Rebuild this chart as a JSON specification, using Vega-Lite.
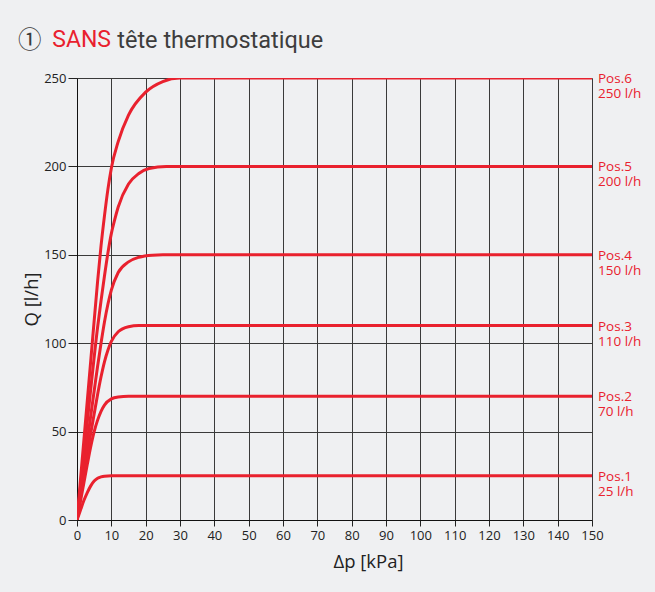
{
  "$schema": "https://vega.github.io/schema/vega-lite/v6.json",
  "width": 515,
  "height": 442,
  "autosize": {"type": "none"},
  "padding": {"left": 77, "top": 78, "right": 63, "bottom": 72},
  "background": "#eff0f2",
  "title": {
    "text": "①\u00a0\u00a0\u00a0\u00a0\u00a0\u00a0\u00a0\u00a0\u00a0\u00a0\u00a0\u00a0\u00a0tête thermostatique",
    "subtitle": "\u200b\u00a0\u00a0\u00a0\u00a0\u00a0\u00a0SANS",
    "anchor": "start",
    "frame": "group",
    "dx": -59,
    "offset": 20,
    "font": "Roboto, Noto Sans CJK JP",
    "fontSize": 23.5,
    "fontWeight": "normal",
    "color": "#3d3d3d",
    "subtitleFont": "Roboto",
    "subtitleFontSize": 23,
    "subtitleFontWeight": "normal",
    "subtitleColor": "#e9212e",
    "subtitlePadding": -23.5
  },
  "config": {
    "view": {"stroke": null},
    "axis": {
      "labelFont": "Open Sans",
      "labelFontSize": 13,
      "labelColor": "#222222",
      "tickColor": "#222222",
      "domainColor": "#111111",
      "gridColor": "#3a3a3a",
      "gridWidth": 1,
      "gridOpacity": 1,
      "titleFont": "Open Sans",
      "titleFontSize": 18.5,
      "titleFontWeight": "normal",
      "titleColor": "#222222",
      "labelFlush": false,
      "labelOverlap": false
    }
  },
  "datasets": {
    "curves": [
      {"pos": "Pos.1", "dp": 0, "q": 0},
      {"pos": "Pos.1", "dp": 1, "q": 5.5},
      {"pos": "Pos.1", "dp": 2, "q": 11},
      {"pos": "Pos.1", "dp": 3, "q": 15.5},
      {"pos": "Pos.1", "dp": 4, "q": 19.3},
      {"pos": "Pos.1", "dp": 5, "q": 22},
      {"pos": "Pos.1", "dp": 6, "q": 23.6},
      {"pos": "Pos.1", "dp": 7, "q": 24.4},
      {"pos": "Pos.1", "dp": 8, "q": 24.8},
      {"pos": "Pos.1", "dp": 10, "q": 25},
      {"pos": "Pos.1", "dp": 150, "q": 25},
      {"pos": "Pos.2", "dp": 0, "q": 0},
      {"pos": "Pos.2", "dp": 1, "q": 10.5},
      {"pos": "Pos.2", "dp": 2, "q": 21},
      {"pos": "Pos.2", "dp": 3, "q": 31.5},
      {"pos": "Pos.2", "dp": 4, "q": 41.5},
      {"pos": "Pos.2", "dp": 5, "q": 50},
      {"pos": "Pos.2", "dp": 6, "q": 56.5},
      {"pos": "Pos.2", "dp": 7, "q": 61.5},
      {"pos": "Pos.2", "dp": 8, "q": 65},
      {"pos": "Pos.2", "dp": 10, "q": 68.5},
      {"pos": "Pos.2", "dp": 12, "q": 69.6},
      {"pos": "Pos.2", "dp": 15, "q": 70},
      {"pos": "Pos.2", "dp": 150, "q": 70},
      {"pos": "Pos.3", "dp": 0, "q": 0},
      {"pos": "Pos.3", "dp": 2, "q": 25},
      {"pos": "Pos.3", "dp": 4, "q": 49},
      {"pos": "Pos.3", "dp": 5, "q": 60},
      {"pos": "Pos.3", "dp": 6, "q": 71},
      {"pos": "Pos.3", "dp": 7, "q": 81},
      {"pos": "Pos.3", "dp": 8, "q": 89.5},
      {"pos": "Pos.3", "dp": 9, "q": 96},
      {"pos": "Pos.3", "dp": 10, "q": 101},
      {"pos": "Pos.3", "dp": 12, "q": 106.5},
      {"pos": "Pos.3", "dp": 15, "q": 109.3},
      {"pos": "Pos.3", "dp": 18, "q": 110},
      {"pos": "Pos.3", "dp": 150, "q": 110},
      {"pos": "Pos.4", "dp": 0, "q": 0},
      {"pos": "Pos.4", "dp": 2, "q": 30},
      {"pos": "Pos.4", "dp": 4, "q": 59},
      {"pos": "Pos.4", "dp": 5, "q": 73},
      {"pos": "Pos.4", "dp": 6, "q": 87},
      {"pos": "Pos.4", "dp": 7, "q": 100},
      {"pos": "Pos.4", "dp": 8, "q": 112},
      {"pos": "Pos.4", "dp": 9, "q": 122},
      {"pos": "Pos.4", "dp": 10, "q": 130},
      {"pos": "Pos.4", "dp": 12, "q": 140},
      {"pos": "Pos.4", "dp": 15, "q": 146},
      {"pos": "Pos.4", "dp": 18, "q": 148.6},
      {"pos": "Pos.4", "dp": 22, "q": 149.8},
      {"pos": "Pos.4", "dp": 25, "q": 150},
      {"pos": "Pos.4", "dp": 150, "q": 150},
      {"pos": "Pos.5", "dp": 0, "q": 0},
      {"pos": "Pos.5", "dp": 2, "q": 37},
      {"pos": "Pos.5", "dp": 4, "q": 74},
      {"pos": "Pos.5", "dp": 6, "q": 109},
      {"pos": "Pos.5", "dp": 7, "q": 124},
      {"pos": "Pos.5", "dp": 8, "q": 138},
      {"pos": "Pos.5", "dp": 9, "q": 151},
      {"pos": "Pos.5", "dp": 10, "q": 162},
      {"pos": "Pos.5", "dp": 11, "q": 170},
      {"pos": "Pos.5", "dp": 12, "q": 177},
      {"pos": "Pos.5", "dp": 15, "q": 190},
      {"pos": "Pos.5", "dp": 18, "q": 196},
      {"pos": "Pos.5", "dp": 21, "q": 198.8},
      {"pos": "Pos.5", "dp": 26, "q": 200},
      {"pos": "Pos.5", "dp": 150, "q": 200},
      {"pos": "Pos.6", "dp": 0, "q": 0},
      {"pos": "Pos.6", "dp": 2, "q": 45},
      {"pos": "Pos.6", "dp": 4, "q": 90},
      {"pos": "Pos.6", "dp": 6, "q": 135},
      {"pos": "Pos.6", "dp": 7, "q": 155},
      {"pos": "Pos.6", "dp": 8, "q": 172},
      {"pos": "Pos.6", "dp": 9, "q": 187},
      {"pos": "Pos.6", "dp": 10, "q": 199},
      {"pos": "Pos.6", "dp": 12, "q": 214},
      {"pos": "Pos.6", "dp": 15, "q": 229},
      {"pos": "Pos.6", "dp": 20, "q": 242},
      {"pos": "Pos.6", "dp": 25, "q": 248},
      {"pos": "Pos.6", "dp": 30, "q": 250},
      {"pos": "Pos.6", "dp": 150, "q": 250}
    ],
    "labels": [
      {"pos": "Pos.1", "dp": 150, "q": 25, "label": "Pos.1\n25 l/h"},
      {"pos": "Pos.2", "dp": 150, "q": 70, "label": "Pos.2\n70 l/h"},
      {"pos": "Pos.3", "dp": 150, "q": 110, "label": "Pos.3\n110 l/h"},
      {"pos": "Pos.4", "dp": 150, "q": 150, "label": "Pos.4\n150 l/h"},
      {"pos": "Pos.5", "dp": 150, "q": 200, "label": "Pos.5\n200 l/h"},
      {"pos": "Pos.6", "dp": 150, "q": 250, "label": "Pos.6\n250 l/h"}
    ]
  },
  "encoding": {
    "x": {
      "field": "dp",
      "type": "quantitative",
      "scale": {"domain": [0, 150], "nice": false},
      "axis": {
        "values": [0, 10, 20, 30, 40, 50, 60, 70, 80, 90, 100, 110, 120, 130, 140, 150],
        "tickSize": 6,
        "labelPadding": 3,
        "title": "Δp [kPa]",
        "titleX": 291,
        "titlePadding": 10
      }
    },
    "y": {
      "field": "q",
      "type": "quantitative",
      "scale": {"domain": [0, 250], "nice": false},
      "axis": {
        "values": [0, 50, 100, 150, 200, 250],
        "tickSize": 9,
        "labelPadding": 2,
        "title": "Q [l/h]",
        "titlePadding": 2
      }
    }
  },
  "layer": [
    {
      "data": {"name": "curves"},
      "mark": {"type": "line", "interpolate": "monotone", "strokeWidth": 3, "color": "#e9212e", "clip": true},
      "encoding": {
        "detail": {"field": "pos"}
      }
    },
    {
      "data": {"name": "labels"},
      "mark": {
        "type": "text",
        "align": "left",
        "baseline": "alphabetic",
        "dx": 6,
        "dy": 5,
        "lineBreak": "\n",
        "font": "Open Sans",
        "fontSize": 13.5,
        "lineHeight": 15,
        "color": "#e9212e"
      },
      "encoding": {
        "text": {"field": "label"}
      }
    }
  ]
}
